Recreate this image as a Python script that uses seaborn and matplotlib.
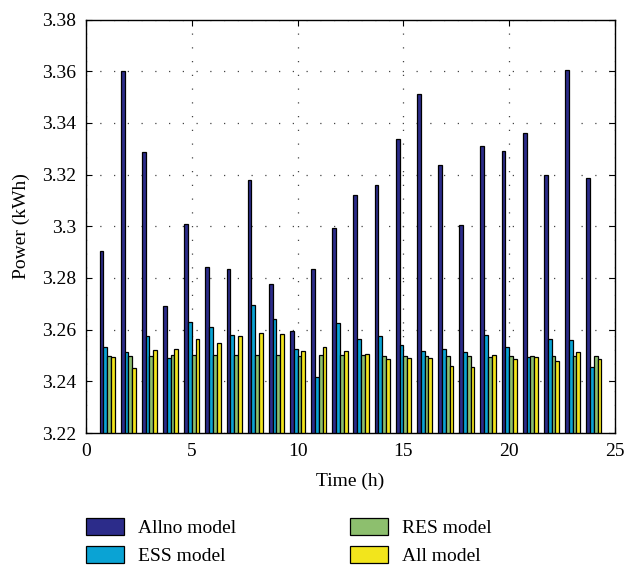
import matplotlib
matplotlib.use("Agg")
import matplotlib.pyplot as plt
import seaborn as sns
import pandas as pd
from matplotlib.ticker import FuncFormatter
from matplotlib.patches import Patch

# data
hours = list(range(1, 25))
allno = [3.2903, 3.3600, 3.3289, 3.2693, 3.3008, 3.2844, 3.2835, 3.3178,
         3.2778, 3.2596, 3.2833, 3.2995, 3.3120, 3.3159, 3.3338, 3.3513,
         3.3237, 3.3006, 3.3312, 3.3293, 3.3359, 3.3200, 3.3606, 3.3185]
ess = [3.2532, 3.2515, 3.2577, 3.2492, 3.2631, 3.2610, 3.2578, 3.2695,
       3.2640, 3.2525, 3.2415, 3.2625, 3.2563, 3.2577, 3.2541, 3.2516,
       3.2525, 3.2514, 3.2581, 3.2533, 3.2495, 3.2563, 3.2560, 3.2454]
res = [3.2498, 3.2498, 3.2499, 3.2502, 3.2501, 3.2502, 3.2502, 3.2501,
       3.2503, 3.2499, 3.2500, 3.2500, 3.2500, 3.2499, 3.2497, 3.2498,
       3.2498, 3.2499, 3.2495, 3.2498, 3.2498, 3.2497, 3.2499, 3.2499]
all_model = [3.2493, 3.2453, 3.2521, 3.2526, 3.2565, 3.2548, 3.2574, 3.2588,
             3.2582, 3.2517, 3.2534, 3.2516, 3.2507, 3.2486, 3.2492, 3.2490,
             3.2459, 3.2455, 3.2503, 3.2485, 3.2494, 3.2480, 3.2514, 3.2488]

model_names = ["Allno model", "ESS model", "RES model", "All model"]
palette = {
    "Allno model": "#2c2c8a",
    "ESS model": "#0aa3d4",
    "RES model": "#8dbf6e",
    "All model": "#f2e51c",
}

df = pd.concat([
    pd.DataFrame({"hour": hours, "power": vals, "model": name})
    for name, vals in zip(model_names, [allno, ess, res, all_model])
])

plt.rcParams["font.family"] = ["Liberation Serif", "DejaVu Serif"]
plt.rcParams["font.size"] = 14

fig = plt.figure(figsize=(6.25, 5.69), dpi=100)
ax = fig.add_axes([0.1376, 0.239, 0.8464, 0.7267])

sns.barplot(data=df, x="hour", y="power", hue="model", hue_order=model_names,
            palette=palette, native_scale=True, width=0.72, errorbar=None,
            edgecolor="black", linewidth=0.9, saturation=1, legend=False, ax=ax)

ax.set_xlim(0, 25)
ax.set_ylim(3.22, 3.38)
ax.set_xticks([0, 5, 10, 15, 20, 25])
ax.set_yticks([3.22, 3.24, 3.26, 3.28, 3.30, 3.32, 3.34, 3.36, 3.38])
ax.xaxis.set_major_formatter(FuncFormatter(lambda v, p: f"{v:g}"))
ax.yaxis.set_major_formatter(FuncFormatter(lambda v, p: f"{v:.2f}".rstrip("0")))
ax.tick_params(direction="in", top=True, right=True, length=4, width=0.8,
               labelsize=14, colors="black", pad=7)
ax.grid(True, linestyle=(0, (1, 10)), linewidth=0.9, color="#444444")
ax.set_axisbelow(True)
for sp in ax.spines.values():
    sp.set_linewidth(1.0)
    sp.set_color("black")

ax.set_xlabel("Time (h)", fontsize=14, labelpad=9)
ax.set_ylabel("Power (kWh)", fontsize=14, labelpad=9)

handles = [Patch(facecolor=palette[n], edgecolor="black", linewidth=0.9) for n in model_names]
fig.legend(handles, model_names, loc="upper left", bbox_to_anchor=(0.109, 0.121),
           ncol=2, frameon=False, fontsize=14, handlelength=1.95, handleheight=1.0,
           handletextpad=0.72, columnspacing=5.86, labelspacing=0.45, borderpad=0.4)

fig.savefig("out.png", dpi=100)
